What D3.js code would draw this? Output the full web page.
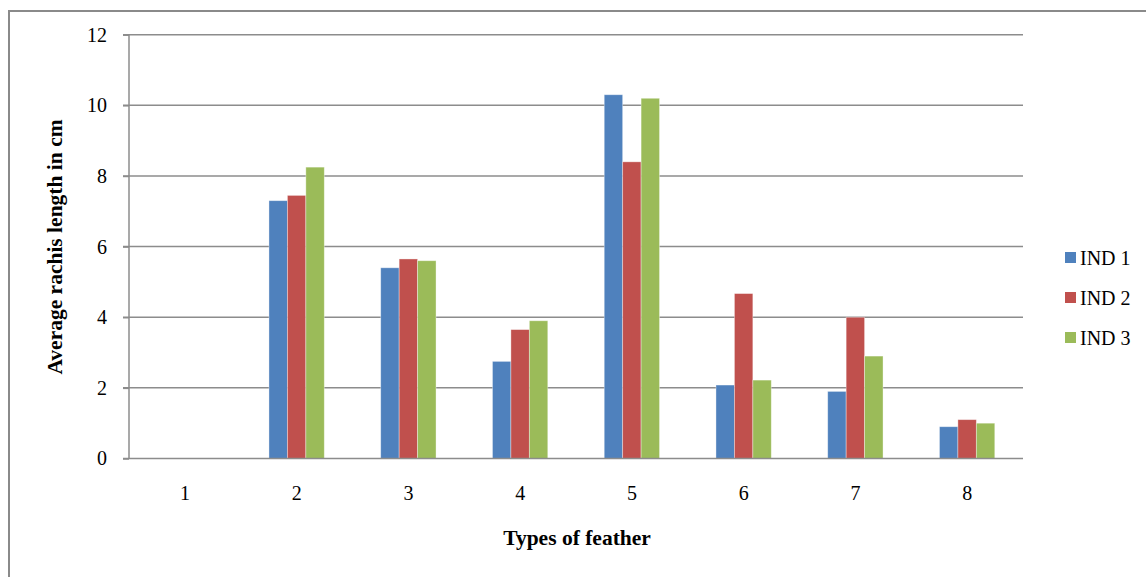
<!DOCTYPE html>
<html>
<head>
<meta charset="utf-8">
<script src="https://cdn.jsdelivr.net/npm/d3@7"></script>
<style>
  html, body { margin: 0; padding: 0; background: #fff; }
  svg { display: block; }
  svg text { font-family: "Liberation Serif", "Times New Roman", serif; fill: #000; }
</style>
</head>
<body>
<svg id="chart" width="1146" height="577"></svg>
<script>
// Feather types on the category axis
const categories = ["1", "2", "3", "4", "5", "6", "7", "8"];
// Average rachis length (cm) per individual
const ind1 = [0, 7.3, 5.4, 2.75, 10.3, 2.08, 1.9, 0.9];
const ind2 = [0, 7.45, 5.65, 3.65, 8.4, 4.67, 4.0, 1.1];
const ind3 = [0, 8.25, 5.6, 3.9, 10.2, 2.22, 2.9, 1.0];
const seriesNames = ["IND 1", "IND 2", "IND 3"];
const seriesColors = ["#4F81BD", "#C0504D", "#9BBB59"];
const yTicks = [0, 2, 4, 6, 8, 10, 12];

const series = [ind1, ind2, ind3];
const serif = "'Liberation Serif', 'Times New Roman', serif";

const svg = d3.select("#chart");
const plot = { left: 129, right: 1023, top: 34.7, bottom: 458.5 };

// Outer frame (left and top edges)
svg.append("path")
  .attr("d", `M9,577 L9,11 L1146,11`)
  .attr("fill", "none")
  .attr("stroke", "#8a8a8a")
  .attr("stroke-width", 2);

const x0 = d3.scaleBand().domain(categories).range([plot.left, plot.right]).padding(0);
const y = d3.scaleLinear().domain([0, 12]).range([plot.bottom, plot.top]);

// Each cluster takes about half the band
const clusterW = x0.bandwidth() * 0.495;
const x1 = d3.scaleBand().domain(d3.range(series.length)).range([0, clusterW]).padding(0);

// Gridlines
svg.append("g")
  .selectAll("line")
  .data(yTicks.filter(d => d > 0))
  .join("line")
  .attr("x1", plot.left - 6)
  .attr("x2", plot.right)
  .attr("y1", d => y(d))
  .attr("y2", d => y(d))
  .attr("stroke", "#8c8c8c")
  .attr("stroke-width", 1.5);

// Bars
const groups = svg.append("g")
  .selectAll("g")
  .data(categories)
  .join("g")
  .attr("transform", d => `translate(${x0(d) + (x0.bandwidth() - clusterW) / 2},0)`);

groups.selectAll("rect")
  .data((d, i) => series.map((s, k) => ({ k, v: s[i] })))
  .join("rect")
  .attr("x", d => x1(d.k))
  .attr("width", x1.bandwidth())
  .attr("y", d => y(d.v))
  .attr("height", d => y(0) - y(d.v))
  .attr("fill", d => seriesColors[d.k])
  .attr("stroke", "rgba(255,255,255,0.45)")
  .attr("stroke-width", 0.8);

// Y axis
const yAxis = svg.append("g")
  .attr("transform", `translate(${plot.left},0)`)
  .call(d3.axisLeft(y).tickValues(yTicks).tickSize(6).tickPadding(16).tickFormat(d3.format("d")))
  .attr("font-family", serif)
  .attr("font-size", 20);
yAxis.select(".domain").attr("stroke", "#8c8c8c").attr("stroke-width", 1.5)
  .attr("d", `M0,${plot.bottom}V${plot.top}`);
yAxis.selectAll(".tick line").attr("stroke", "#8c8c8c").attr("stroke-width", 1.5);

// X axis
const xAxis = svg.append("g")
  .attr("transform", `translate(0,${plot.bottom})`)
  .call(d3.axisBottom(x0).tickSize(0).tickPadding(27))
  .attr("font-family", serif)
  .attr("font-size", 20);
xAxis.select(".domain").attr("stroke", "#8c8c8c").attr("stroke-width", 1.5)
  .attr("d", `M${plot.left - 6},0H${plot.right}`);

// Axis titles
svg.append("text")
  .attr("x", 577)
  .attr("y", 545)
  .attr("text-anchor", "middle")
  .attr("font-weight", "bold")
  .attr("font-size", 21.5)
  .text("Types of feather");

svg.append("text")
  .attr("transform", "translate(62,247) rotate(-90)")
  .attr("text-anchor", "middle")
  .attr("font-weight", "bold")
  .attr("font-size", 21.5)
  .text("Average rachis length in cm");

// Legend
const legend = svg.append("g")
  .selectAll("g")
  .data(seriesNames)
  .join("g")
  .attr("transform", (d, i) => `translate(1065,${252 + i * 40})`);
legend.append("rect")
  .attr("width", 11)
  .attr("height", 11)
  .attr("fill", (d, i) => seriesColors[i]);
legend.append("text")
  .attr("x", 15)
  .attr("y", 13)
  .attr("font-size", 20)
  .text(d => d);
</script>
</body>
</html>
